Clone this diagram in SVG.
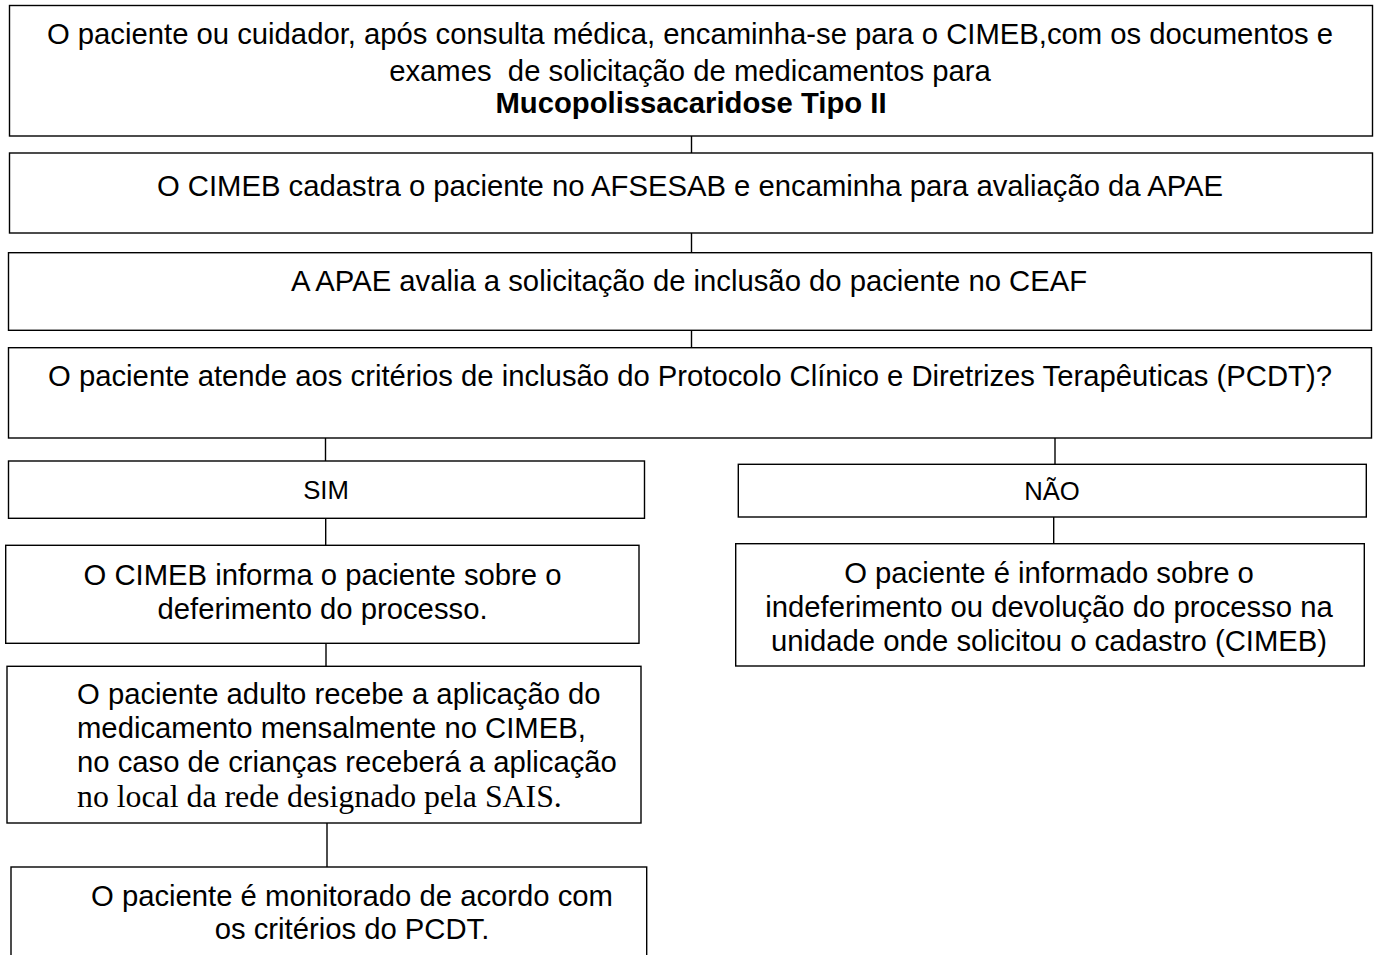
<svg xmlns="http://www.w3.org/2000/svg" width="1378" height="955" viewBox="0 0 1378 955">
<style>
.box{fill:#fff;stroke:#000;stroke-width:1.4}
.t{font-family:"Liberation Sans",Arial,sans-serif;font-size:29.25px;fill:#000}
.c{text-anchor:middle}
.b{font-weight:bold}
.s{font-size:25.7px}
.serif{font-family:"Liberation Serif","Times New Roman",serif;font-size:31.8px}
.conn line{stroke:#000;stroke-width:1.4}
</style>
<rect width="1378" height="955" fill="#fff"/>
<g class="conn">
<line x1="691.5" y1="136" x2="691.5" y2="153"/>
<line x1="691.5" y1="233" x2="691.5" y2="252.7"/>
<line x1="691.5" y1="330.3" x2="691.5" y2="347.7"/>
<line x1="325.5" y1="438" x2="325.5" y2="461"/>
<line x1="1055" y1="438" x2="1055" y2="464.3"/>
<line x1="325.7" y1="518.3" x2="325.7" y2="545.3"/>
<line x1="1053.7" y1="517" x2="1053.7" y2="543.7"/>
<line x1="326" y1="643.3" x2="326" y2="666.3"/>
<line x1="327" y1="823" x2="327" y2="867"/>
</g>
<g id="n1">
<rect class="box" x="9.5" y="5.5" width="1363" height="130.5"/>
<text class="t c" x="690" y="44">O paciente ou cuidador, após consulta médica, encaminha-se para o CIMEB,com os documentos e</text>
<text class="t c" x="690" y="80.5" xml:space="preserve">exames  de solicitação de medicamentos para</text>
<text class="t c b" x="691" y="112.5">Mucopolissacaridose Tipo II</text>
</g>
<g id="n2">
<rect class="box" x="9.5" y="153" width="1363" height="80"/>
<text class="t c" x="690" y="196">O CIMEB cadastra o paciente no AFSESAB e encaminha para avaliação da APAE</text>
</g>
<g id="n3">
<rect class="box" x="8.5" y="252.7" width="1363" height="77.6"/>
<text class="t c" x="689" y="291">A APAE avalia a solicitação de inclusão do paciente no CEAF</text>
</g>
<g id="n4">
<rect class="box" x="8.5" y="347.7" width="1363" height="90.3"/>
<text class="t c" x="690" y="386">O paciente atende aos critérios de inclusão do Protocolo Clínico e Diretrizes Terapêuticas (PCDT)?</text>
</g>
<g id="sim">
<rect class="box" x="8.5" y="461" width="636" height="57.3"/>
<text class="t c s" x="326" y="499">SIM</text>
</g>
<g id="nao">
<rect class="box" x="738.3" y="464.3" width="628" height="52.7"/>
<text class="t c s" x="1052" y="500">NÃO</text>
</g>
<g id="deferimento">
<rect class="box" x="5.7" y="545.3" width="633.3" height="98"/>
<text class="t c" x="322.5" y="585">O CIMEB informa o paciente sobre o</text>
<text class="t c" x="322.5" y="619">deferimento do processo.</text>
</g>
<g id="aplicacao">
<rect class="box" x="7" y="666.3" width="634" height="156.7"/>
<text class="t" x="77" y="704">O paciente adulto recebe a aplicação do</text>
<text class="t" x="77" y="738">medicamento mensalmente no CIMEB,</text>
<text class="t" x="77" y="772">no caso de crianças receberá a aplicação</text>
<text class="t serif" x="77" y="807">no local da rede designado pela SAIS.</text>
</g>
<g id="monitorado">
<rect class="box" x="11" y="867" width="635.7" height="110"/>
<text class="t c" x="352" y="906">O paciente é monitorado de acordo com</text>
<text class="t c" x="352" y="939">os critérios do PCDT.</text>
</g>
<g id="indeferimento">
<rect class="box" x="735.7" y="543.7" width="628.6" height="122.3"/>
<text class="t c" x="1049" y="583">O paciente é informado sobre o</text>
<text class="t c" x="1049" y="617">indeferimento ou devolução do processo na</text>
<text class="t c" x="1049" y="651">unidade onde solicitou o cadastro (CIMEB)</text>
</g>
</svg>
